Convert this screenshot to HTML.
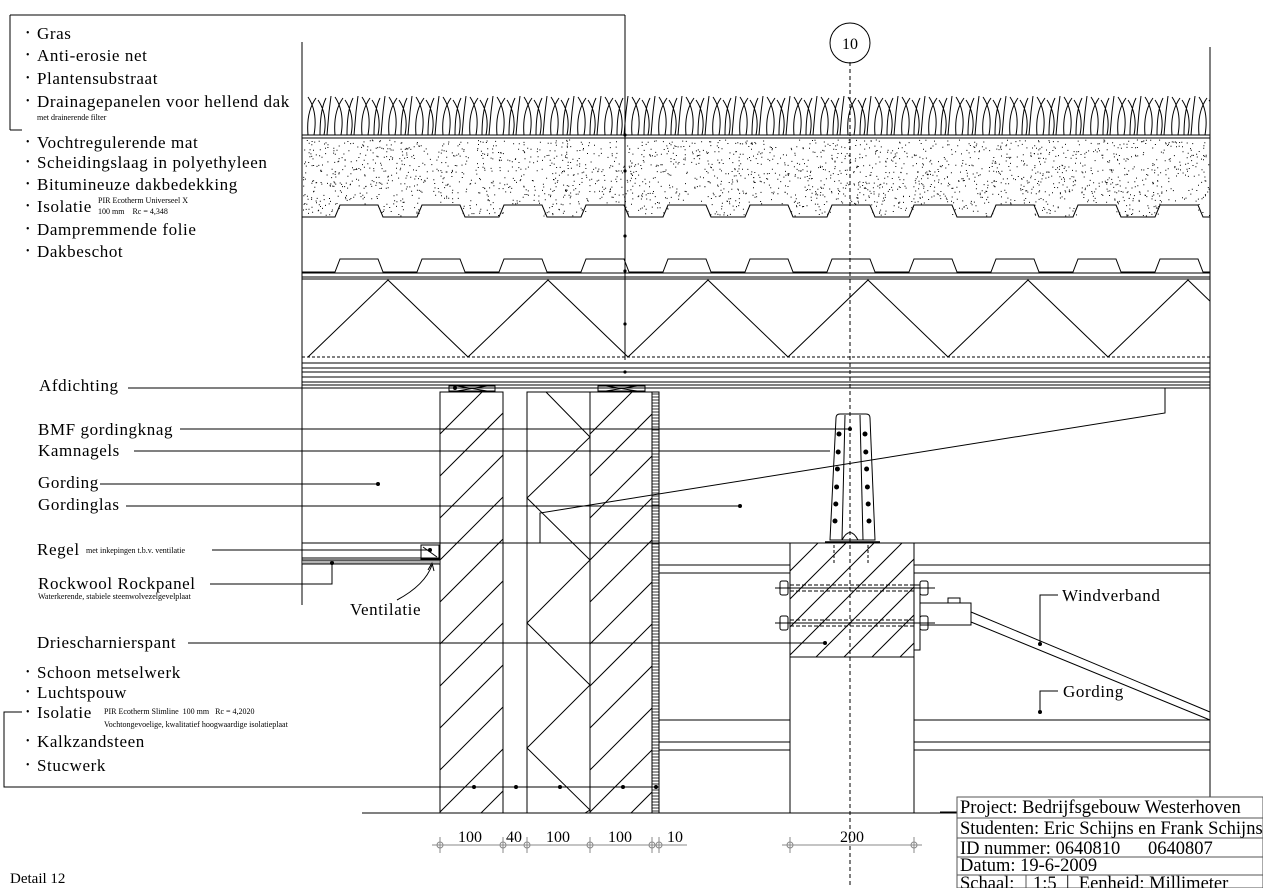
<!DOCTYPE html>
<html><head><meta charset="utf-8">
<style>
html,body{margin:0;padding:0;background:#fff;}
svg{display:block;}
text{font-family:"Liberation Serif",serif;fill:#000;white-space:pre;}
</style></head>
<body>
<svg id="s" width="1263" height="888" viewBox="0 0 1263 888" xmlns="http://www.w3.org/2000/svg">
<defs>
<clipPath id="w1"><rect x="440" y="392" width="63" height="421"/></clipPath>
<clipPath id="w2"><rect x="590" y="392" width="62" height="421"/></clipPath>
<clipPath id="col"><rect x="790" y="543" width="124" height="114"/></clipPath>
<clipPath id="roof"><rect x="302" y="80" width="908" height="300"/></clipPath>
</defs>
<g id="g" stroke="#000" fill="none" stroke-width="1"></g>
<g id="t"></g>
</svg>
<script>
(function(){
const g=document.getElementById('g'),T=document.getElementById('t');
const NS='http://www.w3.org/2000/svg';
function el(n,a,p){const e=document.createElementNS(NS,n);for(const k in a)e.setAttribute(k,a[k]);(p||g).appendChild(e);return e;}
function L(x1,y1,x2,y2,a){const o={x1:x1,y1:y1,x2:x2,y2:y2};if(a)Object.assign(o,a);return el('line',o);}
function R(x,y,w,h,a){const o={x:x,y:y,width:w,height:h};if(a)Object.assign(o,a);return el('rect',o);}
function D(x,y,r){el('circle',{cx:x,cy:y,r:r||2,fill:'#000',stroke:'none'});}
function TX(x,y,s,sz,a){const o={x:x,y:y,'font-size':sz||16};if(a)Object.assign(o,a);const e=el('text',o,T);e.textContent=s;return e;}
const LB={'letter-spacing':'0.6'};
function TL(x,y,s){return TX(x,y,s,17,LB);}

L(302,42,302,605);
L(1210,47,1210,797);
L(10,15,625,15);L(625,15,625,360);L(10,15,10,130);L(10,130,22,130);
const roof=el('g',{'clip-path':'url(#roof)'});
let gp='';
for(let x=304;x<1208;x+=27){
 gp+='M'+(x+4)+',135 Q'+(x+2)+',112 '+(x+12)+',98 M'+(x+10)+',135 Q'+(x+14)+',112 '+(x+4)+',97 M'+(x+16)+',135 Q'+(x+16)+',110 '+(x+22)+',98 M'+(x+20)+',135 Q'+(x+24)+',115 '+(x+14)+',100 M'+(x+23)+',135 L'+(x+25)+',112 L'+(x+27)+',96 ';
}
el('path',{d:gp,'stroke-width':'1'},roof);
L(302,135,1210,135);L(302,138,1210,138);
function prof(yh,yl){let d='M302,'+yl;for(let x=335;x<1210;x+=82){d+=' L'+x+','+yl+' L'+(x+5)+','+yh+' L'+Math.min(x+43,1210)+','+yh+' L'+Math.min(x+48,1210)+','+yl;}d+=' L1210,'+yl;return d;}
el('path',{d:prof(205,217)},roof);
let dd='';let seed=7;function rnd(){seed=(seed*16807)%2147483647;return seed/2147483647;}
for(let i=0;i<2600;i++){const x=303+rnd()*906,y=140+rnd()*76;
 const ph=((x-335)%82+82)%82; const tp=(ph>5&&ph<43)?205:217; if(y>tp-1)continue;
 dd+='M'+x.toFixed(1)+','+y.toFixed(1)+'h1 ';}
el('path',{d:dd,'stroke-width':'1'},roof);
el('path',{d:prof(259,272)},roof);
[273,277,279].forEach(function(y){L(302,y,1210,y);});
let tz='';
for(let x=308;x<1210;x+=160){tz+='M'+x+',357 L'+(x+80)+',280 L'+(x+160)+',357 ';}
el('path',{d:tz},roof);
L(302,357,1210,357,{'stroke-dasharray':'3,2'});
[363,368,372,377,382,385,388].forEach(function(y){L(302,y,1210,y);});
[135,171,236,271,324,372].forEach(function(y){D(625,y,1.6);});
[[449,495],[598,645]].forEach(function(p){const a=p[0],b=p[1];R(a,386,b-a,5);L(a+8,386,b-8,391);L(a+8,391,b-8,386);});
R(440,392,63,421);R(527,392,63,421);R(590,392,62,421);R(652,392,7,421);
for(let y=394;y<813;y+=3)L(652,y,659,y,{'stroke-width':'0.8'});
function hatch(clip,x0,x1,y0,y1,step){const gg=el('g',{'clip-path':'url(#'+clip+')'});for(let y=y0;y<y1+(x1-x0);y+=step){el('line',{x1:x0,y1:y,x2:x1,y2:y-(x1-x0)},gg);}}
hatch('w1',440,503,392,813,42);hatch('w2',590,652,392,813,42);hatch('col',790,914,543,657,28);
el('path',{d:'M546,392 L590,437 L527,498 L590,560 L527,623 L590,685 L527,748 L590,810 L585,813'});
L(302,543,1210,543);L(302,558,440,558);
R(302,560,138,4);for(let x=304;x<440;x+=2)L(x,560,x,564,{'stroke-width':'0.6'});
R(421,545,18,14);L(423,547,437,557);
[565,573,720,742,750].forEach(function(y){L(659,y,790,y);L(914,y,1210,y);});
R(790,543,124,270);L(790,657,914,657);
L(850,62,850,888,{'stroke-dasharray':'4,3'});
el('circle',{cx:850,cy:43,r:20});
TX(850,49,'10',16,{'text-anchor':'middle'});
el('path',{d:'M836,418 Q836,414 840,414 L866,414 Q870,414 870,418 L875,540 L830,540 Z'});
L(845,415,842,540);L(860,415,863,540);
el('path',{d:'M842,540 Q850,525 858,540'});
L(825,542,880,542,{'stroke-width':'1.5'});
[434,452,469,487,504,521].forEach(function(y,i){D(839-i*0.8,y,2.5);D(865+i*0.8,y,2.5);});
L(834,545,834,565,{'stroke-dasharray':'3,2'});L(868,545,868,565,{'stroke-dasharray':'3,2'});
[588,623].forEach(function(y){L(775,y,935,y);L(790,y-3,914,y-3,{'stroke-dasharray':'4,2'});L(790,y+3,914,y+3,{'stroke-dasharray':'4,2'});
R(780,y-7,8,14,{rx:2});R(920,y-7,8,14,{rx:2});});
R(914,585,6,65);R(920,603,51,22);R(948,598,12,5);
el('path',{d:'M971,612 L1210,712 M971,622 L1210,720'});
el('path',{d:'M540,543 L540,513 L1165,413 L1165,388'});
L(362,813,957,813);L(940,812,957,812);
L(128,388,455,388);D(455,388);
L(180,429,850,429);D(850,429);
L(134,451,830,451);
L(100,484,378,484);D(378,484);
L(126,506,740,506);D(740,506);
L(212,550,430,550);D(430,550);
el('path',{d:'M210,584 L332,584 L332,563'});D(332,563);
L(188,643,825,643);D(825,643);
el('path',{d:'M22,712 L4,712 L4,787 L659,787'});[474,516,560,623,656].forEach(function(x){D(x,787);});
el('path',{d:'M397,600 Q425,585 432,565'});el('path',{d:'M428,570 L432,563 L434,571'});
el('path',{d:'M1058,595 L1040,595 L1040,644'});D(1040,644);
el('path',{d:'M1058,691 L1040,691 L1040,712'});D(1040,712);
const dc='#888';
L(432,845,687,845,{stroke:dc});L(782,845,922,845,{stroke:dc});
[440,503,527,590,652,659,790,914].forEach(function(x){L(x,837,x,853,{stroke:dc});el('circle',{cx:x,cy:845,r:3,stroke:dc});});
[['100',470],['40',514],['100',558],['100',620],['10',675],['200',852]].forEach(function(p){TX(p[1],842,p[0],16,{'text-anchor':'middle'});});
R(957,797,306,91,{stroke:'#555'});[818,838,857,875].forEach(function(y){L(957,y,1263,y,{stroke:'#555'});});L(1026,875,1026,888,{stroke:'#555'});
[['Project: Bedrijfsgebouw Westerhoven',813],['Studenten: Eric Schijns en Frank Schijns',834],['ID nummer: 0640810      0640807',854],['Datum: 19-6-2009',871],['Schaal:    1:5  |  Eenheid: Millimeter',889]].forEach(function(p){TX(960,p[1],p[0],18.5,{fill:'#777'});});
const labelsTop=[['Gras',39],['Anti-erosie net',61],['Plantensubstraat',84],['Drainagepanelen voor hellend dak',107],['Vochtregulerende mat',148],['Scheidingslaag in polyethyleen',168],['Bitumineuze dakbedekking',190],['Isolatie',212],['Dampremmende folie',235],['Dakbeschot',257]];
labelsTop.forEach(function(p){TX(26,p[1]-3,'•',10);TL(37,p[1],p[0]);});
TX(37,120,'met drainerende filter',8);
TX(98,203,'PIR Ecotherm Universeel X',8);TX(98,214,'100 mm    Rc = 4,348',8);
TL(39,391,'Afdichting');TL(38,435,'BMF gordingknag');TL(38,456,'Kamnagels');TL(38,488,'Gording');TL(38,510,'Gordinglas');
TL(37,555,'Regel');TX(86,553,'met inkepingen t.b.v. ventilatie',8);
TL(38,589,'Rockwool Rockpanel');TX(38,599,'Waterkerende, stabiele steenwolvezelgevelplaat',8);
TL(350,615,'Ventilatie');TL(37,648,'Driescharnierspant');
[['Schoon metselwerk',678],['Luchtspouw',698],['Isolatie',718],['Kalkzandsteen',747],['Stucwerk',771]].forEach(function(p){TX(26,p[1]-3,'•',10);TL(37,p[1],p[0]);});
TX(104,714,'PIR Ecotherm Slimline  100 mm   Rc = 4,2020',8);TX(104,727,'Vochtongevoelige, kwalitatief hoogwaardige isolatieplaat',8);
TL(1062,601,'Windverband');TL(1063,697,'Gording');
TX(10,883,'Detail 12',15);
})();
</script>
</body></html>
